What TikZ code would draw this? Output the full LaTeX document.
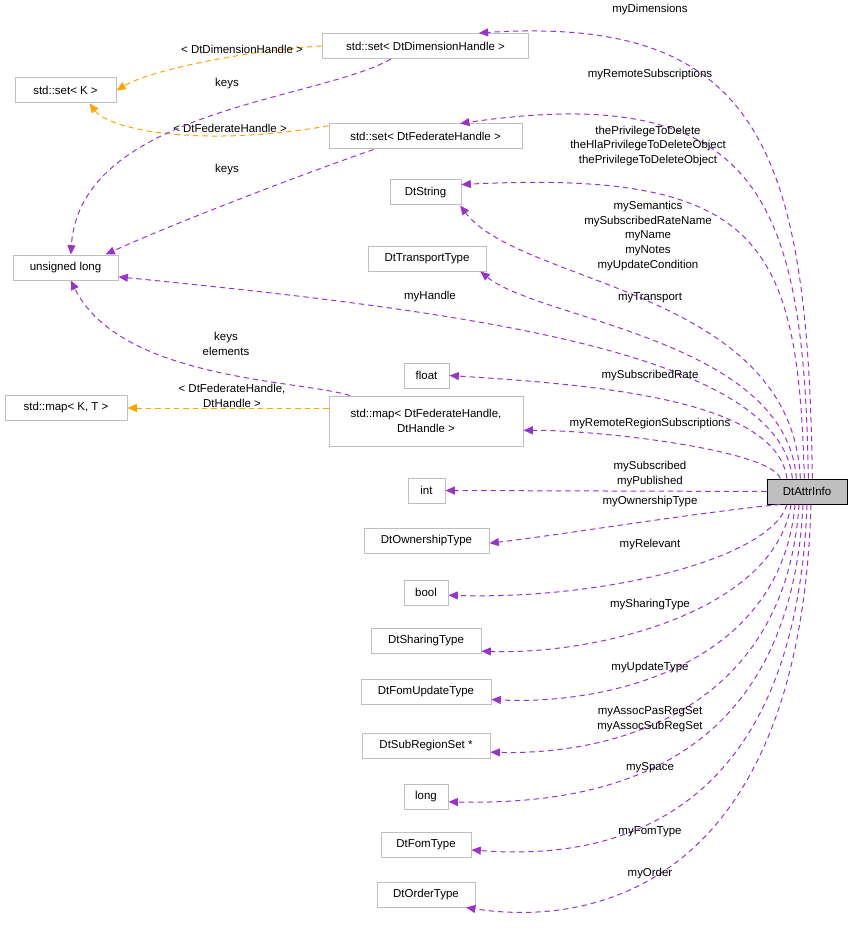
\documentclass[tikz,border=0pt]{standalone}
\usepackage{fontspec}
\setmainfont{Liberation Sans}
\usetikzlibrary{arrows.meta}
\definecolor{pur}{HTML}{9A32CD}
\definecolor{ora}{HTML}{FFA500}
\definecolor{bx}{HTML}{BFBFBF}
\begin{document}
\begin{tikzpicture}[x=0.75pt,y=-0.75pt,
  font=\fontsize{8.6}{10.9}\selectfont,
  box/.style={draw=bx,line width=0.75pt,fill=white,inner sep=1pt,minimum height=18.75pt,align=center},
  pe/.style={draw=pur,line width=0.75pt,dash pattern=on 4pt off 3pt,-{Triangle[length=7pt,width=6pt]},fill=none},
  oe/.style={draw=ora,line width=0.75pt,dash pattern=on 4pt off 3pt,-{Triangle[length=7pt,width=6pt]},fill=none},
  lb/.style={align=center,inner sep=0pt}]
\useasboundingbox (0,0) rectangle (853,934);
% nodes
\node[box,minimum width=155pt] (sdim) at (425.5,46) {std::set\textless{} DtDimensionHandle \textgreater{}};
\node[box,minimum width=75.75pt] (setk) at (65.5,90.5) {std::set\textless{} K \textgreater{}};
\node[box,minimum width=144.75pt] (sfed) at (425.5,136.5) {std::set\textless{} DtFederateHandle \textgreater{}};
\node[box,minimum width=53.25pt] (dts) at (425.5,192.5) {DtString};
\node[box,minimum width=78.75pt] (ul) at (65.5,267.5) {unsigned long};
\node[box,minimum width=88.5pt] (dtt) at (427,258.5) {DtTransportType};
\node[box,minimum width=33.75pt] (flt) at (426.5,375.5) {float};
\node[box,minimum width=91.5pt] (mkt) at (66,408) {std::map\textless{} K, T \textgreater{}};
\node[box,minimum width=145.5pt,minimum height=37.5pt] (map) at (426,421) {std::map\textless{} DtFederateHandle,\\DtHandle \textgreater{}};
\node[box,minimum width=27.75pt] (int) at (426.5,490.5) {int};
\node[draw=black,line width=0.75pt,fill=bx,inner sep=1pt,minimum height=18.75pt,minimum width=60pt] (attr) at (807,491.5) {DtAttrInfo};
\node[box,minimum width=93.75pt] (own) at (426.5,540.5) {DtOwnershipType};
\node[box,minimum width=33pt] (bool) at (426,592.5) {bool};
\node[box,minimum width=82.5pt] (shr) at (426,640.5) {DtSharingType};
\node[box,minimum width=97.5pt] (fut) at (426,691.5) {DtFomUpdateType};
\node[box,minimum width=96pt] (srs) at (426,745.5) {DtSubRegionSet *};
\node[box,minimum width=33pt] (lng) at (426,796.5) {long};
\node[box,minimum width=67.5pt] (fty) at (426,844.5) {DtFomType};
\node[box,minimum width=73.5pt] (ord) at (426,894.5) {DtOrderType};
% orange template edges
\draw[oe] (sdim.west) .. controls (250,50) and (150,70) .. (setk.east);
\draw[oe] ([yshift=8pt]sfed.west) .. controls (200,148) and (110,130) .. ([xshift=18pt]setk.south);
\draw[oe] ([yshift=9.75pt]map.west) -- (mkt.east);
\node[lb] at (242,49) {\textless{} DtDimensionHandle \textgreater{}};
\node[lb] at (230,128) {\textless{} DtFederateHandle \textgreater{}};
\node[lb] at (232,396) {\textless{} DtFederateHandle,\\DtHandle \textgreater{}};
% keys edges
\draw[pe] ([xshift=-26pt]sdim.south) .. controls (320,100) and (80,110) .. ([xshift=4pt]ul.north);
\draw[pe] ([xshift=-39pt]sfed.south) .. controls (300,175) and (170,225) .. ([xshift=30pt]ul.north);
\draw[pe] ([xshift=-57pt]map.north) .. controls (300,380) and (120,380) .. ([xshift=4pt]ul.south);
\node[lb] at (227,84) {keys};
\node[lb] at (227,170) {keys};
\node[lb] at (226,344) {keys\\elements};
% member edges
\draw[pe] ([xshift=4pt]attr.north) .. controls (808,150) and (760,15) .. ([xshift=40pt]sdim.north);
\draw[pe] ([xshift=1pt]attr.north) .. controls (804,200) and (760,80) .. ([xshift=26pt]sfed.north);
\draw[pe] ([xshift=-2pt]attr.north) .. controls (798,240) and (760,170) .. ([yshift=6pt]dts.east);
\draw[pe] ([xshift=-5pt]attr.north) .. controls (792,290) and (520,285) .. ([xshift=26pt]dts.south);
\draw[pe] ([xshift=-8pt]attr.north) .. controls (786,340) and (540,320) .. ([xshift=40pt]dtt.south);
\draw[pe] ([xshift=-11pt]attr.north) .. controls (780,350) and (450,310) .. ([yshift=-7pt]ul.east);
\draw[pe] ([xshift=-15pt]attr.north) .. controls (776,400) and (600,385) .. (flt.east);
\draw[pe] ([xshift=-20pt]attr.north) .. controls (770,450) and (600,430) .. ([yshift=-7pt]map.east);
\draw[pe] (attr.west) -- (int.east);
\draw[pe] ([xshift=-20pt]attr.south) .. controls (700,512) and (560,535) .. ([yshift=-2pt]own.east);
\draw[pe] ([xshift=-15pt]attr.south) .. controls (770,560) and (600,600) .. ([yshift=-2pt]bool.east);
\draw[pe] ([xshift=-12pt]attr.south) .. controls (775,610) and (600,655) .. ([yshift=-8pt]shr.east);
\draw[pe] ([xshift=-9pt]attr.south) .. controls (780,670) and (600,705) .. ([yshift=-6pt]fut.east);
\draw[pe] ([xshift=-6pt]attr.south) .. controls (785,720) and (600,755) .. ([yshift=-5pt]srs.east);
\draw[pe] ([xshift=-3pt]attr.south) .. controls (790,770) and (600,805) .. ([yshift=-4pt]lng.east);
\draw[pe] ([xshift=0pt]attr.south) .. controls (795,830) and (600,860) .. ([yshift=-4pt]fty.east);
\draw[pe] ([xshift=3pt]attr.south) .. controls (800,880) and (600,928) .. ([xshift=30pt]ord.south);
% member labels
\node[lb] at (650,10) {myDimensions};
\node[lb] at (650,75) {myRemoteSubscriptions};
\node[lb] at (648,146) {thePrivilegeToDelete\\theHlaPrivilegeToDeleteObject\\thePrivilegeToDeleteObject};
\node[lb] at (648,236) {mySemantics\\mySubscribedRateName\\myName\\myNotes\\myUpdateCondition};
\node[lb] at (650,298) {myTransport};
\node[lb] at (430,297) {myHandle};
\node[lb] at (650,376) {mySubscribedRate};
\node[lb] at (650,424) {myRemoteRegionSubscriptions};
\node[lb] at (650,474) {mySubscribed\\myPublished};
\node[lb] at (650,502) {myOwnershipType};
\node[lb] at (650,545) {myRelevant};
\node[lb] at (650,605) {mySharingType};
\node[lb] at (650,668) {myUpdateType};
\node[lb] at (650,719) {myAssocPasRegSet\\myAssocSubRegSet};
\node[lb] at (650,768) {mySpace};
\node[lb] at (650,832) {myFomType};
\node[lb] at (650,874) {myOrder};
\end{tikzpicture}
\end{document}
